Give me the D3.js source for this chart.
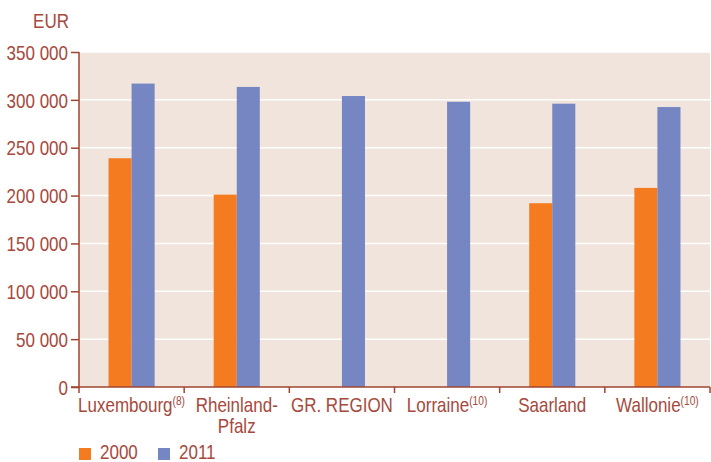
<!DOCTYPE html>
<html><head><meta charset="utf-8">
<script src="https://cdn.jsdelivr.net/npm/d3@7"></script>
<style>
html,body{margin:0;padding:0;background:#fff;}
svg text{font-family:"Liberation Sans",Arial,sans-serif;}
</style></head>
<body><svg id="c" width="711" height="462"></svg>
<script>
const categories = ["Luxembourg","Rheinland-Pfalz","GR. REGION","Lorraine","Saarland","Wallonie"];
const labelLines = [["Luxembourg"],["Rheinland-","Pfalz"],["GR. REGION"],["Lorraine"],["Saarland"],["Wallonie"]];
const footnotes = ["(8)","","","(10)","","(10)"];
const series = ["2000","2011"];
const values2000 = [239000, 201000, null, null, 192000, 208000];
const values2011 = [317000, 313500, 304000, 298000, 296000, 292500];
const yTicks = [0,50000,100000,150000,200000,250000,300000,350000];
const unitLabel = "EUR";

const textColor = "#A6493D", axisColor = "#A0452F";
const colors = {"2000":"#F47B20","2011":"#7686C2"};
const FS = 20, SX = 0.85;
const svg = d3.select("#c");
const m = {l:79, r:1, t:52, b:75};
const W = 711, H = 462;
const x = d3.scaleBand().domain(categories).range([m.l, W-m.r]).paddingInner(0).paddingOuter(0);
const xs = d3.scaleBand().domain(series).range([0, x.bandwidth()]).paddingInner(0).paddingOuter(1.28);
const y = d3.scaleLinear().domain([0,350000]).range([H-m.b, m.t]);

// condense text horizontally
function cond(sel){
  sel.each(function(){
    const el = d3.select(this);
    const xv = +(el.attr("x")||0);
    el.attr("x", xv/SX).attr("transform", `scale(${SX},1)`);
    el.selectAll("tspan").each(function(){
      const t = d3.select(this);
      if(t.attr("x")!=null) t.attr("x", +t.attr("x")/SX);
    });
  });
}

svg.append("rect").attr("x",m.l).attr("y",m.t).attr("width",W-m.r-m.l).attr("height",y(0)-m.t).attr("fill","#F0E4DD");
svg.append("g").selectAll("line").data(yTicks.filter(d=>d>0)).join("line")
  .attr("x1",m.l).attr("x2",W-m.r).attr("y1",d=>y(d)).attr("y2",d=>y(d))
  .attr("stroke","#fff").attr("stroke-width",1.5);

const data = categories.map((c,i)=>({c, v:{"2000":values2000[i],"2011":values2011[i]}}));
const g = svg.append("g");
data.forEach(d=>{
  series.forEach(s=>{
    if(d.v[s]==null) return;
    g.append("rect").attr("x",x(d.c)+xs(s)).attr("width",xs.bandwidth())
      .attr("y",y(d.v[s])).attr("height",y(0)-y(d.v[s])).attr("fill",colors[s]);
  });
});

// y axis
const fmt = d=> d3.format(",")(d).replace(/,/g," ");
const ya = svg.append("g").attr("transform",`translate(${m.l},0)`)
  .call(d3.axisLeft(y).tickValues(yTicks).tickFormat(fmt).tickSize(8).tickPadding(3));
ya.select(".domain").attr("stroke",axisColor).attr("stroke-width",1.5).attr("d",`M0,${m.t}V${y(0)}`);
ya.selectAll(".tick line").attr("stroke",axisColor).attr("stroke-width",1.5);
ya.selectAll(".tick text").attr("fill",textColor).attr("font-size",FS).attr("font-family",null).attr("dy","0.36em").call(cond);

// x axis
const xa = svg.append("g").attr("transform",`translate(0,${y(0)})`);
xa.append("line").attr("x1",m.l-8).attr("x2",W-m.r).attr("stroke",axisColor).attr("stroke-width",1.5);
const bounds = categories.map(c=>x(c)).concat([x(categories[categories.length-1])+x.bandwidth()]);
xa.selectAll("line.t").data(bounds).join("line").attr("class","t")
  .attr("x1",d=>d).attr("x2",d=>d).attr("y1",0).attr("y2",6).attr("stroke",axisColor).attr("stroke-width",1.5);
categories.forEach((c,i)=>{
  const t = xa.append("text").attr("x",x(c)+x.bandwidth()/2).attr("y",25)
    .attr("text-anchor","middle").attr("fill",textColor).attr("font-size",FS);
  labelLines[i].forEach((ln,j)=>{
    t.append("tspan").attr("x",x(c)+x.bandwidth()/2).attr("dy", j===0?0:21).text(ln);
    if(j===0 && footnotes[i]){
      t.append("tspan").attr("font-size",12).attr("dy",-7).text(footnotes[i]);
    }
  });
  t.call(cond);
});

// unit label
svg.append("text").attr("x",69).attr("y",28).attr("text-anchor","end").attr("fill",textColor).attr("font-size",FS).text(unitLabel).call(cond);

// legend
const lg = svg.append("g");
const legX = [79,158];
series.forEach((s,i)=>{
  lg.append("rect").attr("x",legX[i]).attr("y",448).attr("width",12).attr("height",12).attr("fill",colors[s]);
  lg.append("text").attr("x",legX[i]+21).attr("y",459).attr("fill",textColor).attr("font-size",FS).text(s).call(cond);
});
</script></body></html>
